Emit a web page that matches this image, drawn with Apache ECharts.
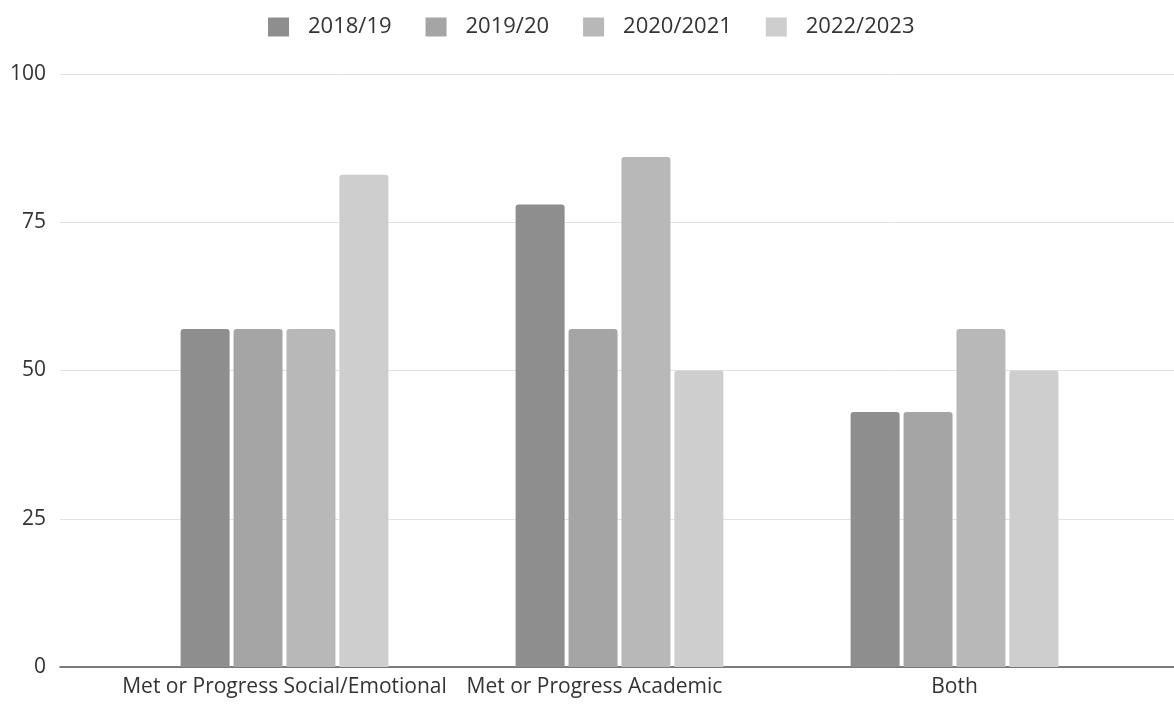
<!DOCTYPE html>
<html>
	<head>
		<meta charset="utf-8">
		<title>Progress chart</title>
		<script src="https://cdn.jsdelivr.net/npm/echarts@6/dist/echarts.min.js"></script>
		<style type="text/css">
			html, body {
				margin: 0;
				padding: 0;
				background: #ffffff;
			}
			#main {
				width: 1174px;
				height: 706px;
			}
		</style>
	</head>
	<body>
		<div id="main"></div>
	</body>
</html>

<script type="text/javascript">
	// 数据
	var categories = ['Met or Progress Social/Emotional', 'Met or Progress Academic', 'Both'];
	var seriesNames = ['2018/19', '2019/20', '2020/2021', '2022/2023'];
	var values2018 = [57, 78, 43];
	var values2019 = [57, 57, 43];
	var values2020 = [57, 86, 57];
	var values2022 = [83, 50, 50];
	var yTicks = [0, 25, 50, 75, 100];

	var colors = ['#8e8e8e', '#a5a5a5', '#b8b8b8', '#cecece'];
	var allValues = [values2018, values2019, values2020, values2022];

	var myChart = echarts.init(document.getElementById('main'));

	var series = [];
	for (var i = 0; i < seriesNames.length; i++) {
		series.push({
			name: seriesNames[i],
			type: 'bar',
			xAxisIndex: 0,
			yAxisIndex: 0,
			data: allValues[i],
			barWidth: 49,
			barGap: '8%',
			itemStyle: {
				color: colors[i],
				borderRadius: [3, 3, 0, 0]
			},
			animation: false
		});
	}

	var font = 'Open Sans';

	var option = {
		color: colors,
		legend: {
			top: 11,
			left: 263,
			itemWidth: 21,
			itemHeight: 19,
			itemGap: 34,
			icon: 'rect',
			data: seriesNames,
			textStyle: {
				fontFamily: font,
				fontSize: 22,
				color: '#333',
				padding: [0, 0, 0, 14]
			}
		},
		grid: [
			// 画柱子的网格
			{ left: 117, right: 52, top: 74, bottom: 39 },
			// 画刻度和网格线的网格（更宽）
			{ left: 60, right: 0, top: 74, bottom: 39 }
		],
		xAxis: [
			{
				type: 'category',
				gridIndex: 0,
				data: categories,
				axisLine: { show: false },
				axisTick: { show: false },
				axisLabel: {
					interval: 0,
					fontFamily: font,
					fontSize: 21,
					color: '#333',
					margin: 10,
					// 中间的标签往左挪一点，和原图一样
					formatter: function (value, index) {
						return index == 1 ? '{mid|' + value + '}' : value;
					},
					rich: {
						mid: {
							fontFamily: font,
							fontSize: 21,
							color: '#333',
							padding: [0, 50, 0, 0]
						}
					}
				}
			},
			{
				type: 'value',
				gridIndex: 1,
				min: 0,
				max: 1,
				axisLine: { show: true, lineStyle: { color: '#555', width: 1.5 } },
				axisTick: { show: false },
				axisLabel: { show: false },
				splitLine: { show: false }
			}
		],
		yAxis: [
			{
				type: 'value',
				gridIndex: 0,
				min: yTicks[0],
				max: yTicks[yTicks.length - 1],
				interval: 25,
				axisLine: { show: false },
				axisTick: { show: false },
				axisLabel: { show: false },
				splitLine: { show: false }
			},
			{
				type: 'value',
				gridIndex: 1,
				min: yTicks[0],
				max: yTicks[yTicks.length - 1],
				interval: 25,
				axisLine: { show: false },
				axisTick: { show: false },
				axisLabel: {
					fontFamily: font,
					fontSize: 21,
					color: '#333',
					margin: 14
				},
				splitLine: { lineStyle: { color: '#e2e2e2', width: 1 } }
			}
		],
		series: series
	};

	myChart.setOption(option);
</script>
